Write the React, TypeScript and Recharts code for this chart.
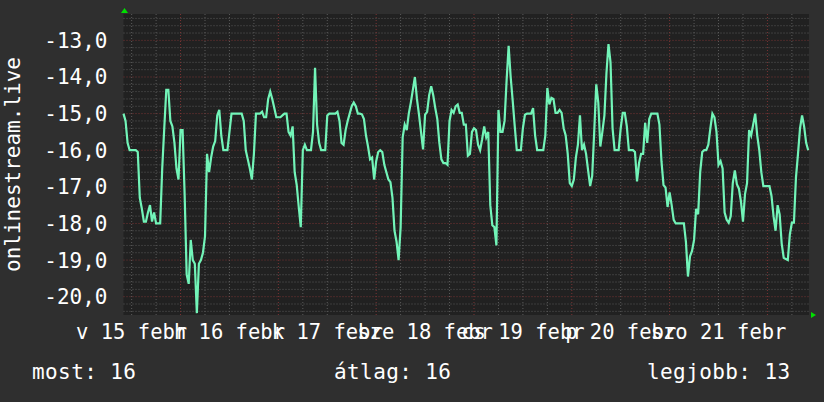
import React from 'react'
import { LineChart, Line, XAxis, YAxis, CartesianGrid, ReferenceLine } from 'recharts'

// hours counted from 15 Feb 00:00, one sample every half hour
const START_HOUR = 10
const STEP_HOURS = 0.5
const END_HOUR = 178.2

const rankValues = [
  -15.0, -15.2, -15.8, -16.0, -16.0, -16.0, -16.0, -16.05, -17.3, -17.6,
  -17.95, -17.95, -17.7, -17.5, -17.95, -17.7, -18.0, -18.0, -18.0, -16.5,
  -15.4, -14.35, -14.35, -15.2, -15.35, -15.8, -16.5, -16.8, -15.45, -15.45,
  -17.2, -19.4, -19.65, -18.45, -19.0, -19.1, -20.45, -19.1, -19.0, -18.8,
  -18.35, -16.1, -16.6, -16.2, -15.9, -15.75, -15.05, -14.9, -15.6, -16.0,
  -16.0, -16.0, -15.5, -15.0, -15.0, -15.0, -15.0, -15.0, -15.0, -15.2,
  -16.0, -16.25, -16.5, -16.8, -16.1, -15.0, -15.0, -15.0, -14.95, -15.1,
  -15.1, -14.6, -14.4, -14.6, -14.85, -15.1, -15.1, -15.1, -15.05, -15.0,
  -15.0, -15.5, -15.6, -15.35, -16.6, -16.95, -17.55, -18.1, -16.0, -15.85,
  -16.0, -16.0, -16.0, -15.5, -13.75, -15.3, -15.8, -16.0, -16.0, -16.0,
  -15.05, -15.0, -15.0, -15.0, -15.0, -14.95, -15.2, -15.8, -15.85, -15.45,
  -15.2, -15.0, -14.8, -14.7, -14.8, -15.0, -15.0, -15.02, -15.15, -15.6,
  -15.9, -16.25, -16.2, -16.8, -16.3, -16.05, -16.0, -16.05, -16.4, -16.6,
  -16.8, -16.87, -17.3, -18.2, -18.5, -19.0, -18.1, -15.65, -15.3, -15.45,
  -15.0, -14.7, -14.35, -14.0, -14.6, -15.02, -15.5, -15.98, -15.03, -14.95,
  -14.5, -14.25, -14.5, -14.85, -15.15, -15.8, -16.25, -16.35, -16.35, -16.4,
  -15.2, -14.9, -14.98, -14.8, -14.75, -14.98, -14.98, -15.3, -15.3, -16.15,
  -16.1, -15.5, -15.4, -15.45, -15.85, -16.0, -15.7, -15.35, -15.65, -15.5,
  -17.5, -18.05, -18.1, -18.6, -14.9, -15.5, -15.5, -15.2, -14.1, -13.15,
  -14.0, -14.65, -15.35, -16.0, -16.0, -16.0, -15.4, -15.03, -15.0, -15.0,
  -15.0, -14.85, -15.6, -16.0, -16.0, -16.0, -16.0, -15.6, -14.3, -14.75,
  -14.57, -14.6, -14.98, -14.98, -14.9, -14.98, -15.4, -15.6, -16.1, -16.9,
  -16.98, -16.8, -16.2, -15.85, -15.05, -16.0, -15.85, -16.1, -16.55, -16.98,
  -16.7, -15.5, -14.2, -14.7, -15.9, -15.5, -15.05, -13.9, -13.1, -13.6,
  -15.4, -16.0, -16.0, -16.0, -15.4, -14.98, -14.98, -15.35, -16.0, -16.0,
  -16.0, -16.05, -16.85, -16.35, -16.1, -16.1, -15.25, -15.8, -15.15, -15.0,
  -15.0, -15.0, -15.0, -15.3, -16.3, -16.95, -17.02, -17.55, -17.15, -17.5,
  -17.9, -18.0, -18.0, -18.0, -18.0, -18.0, -18.5, -19.45, -18.9, -18.75,
  -18.45, -17.6, -17.75, -16.6, -16.05, -16.0, -16.0, -15.85, -15.4, -15.0,
  -15.1, -15.5, -16.4, -16.3, -16.5, -17.7, -17.9, -17.98, -17.8, -16.9,
  -16.55, -16.93, -17.05, -17.4, -17.95, -17.2, -16.9, -15.45, -15.6, -15.3,
  -15.0, -15.6, -16.0, -16.6, -16.98, -16.98, -16.98, -16.98, -17.25, -17.8,
  -18.2, -17.5, -17.75, -18.55, -18.94, -18.97, -19.0, -18.3, -17.98, -17.98,
  -16.75, -16.1, -15.4, -15.05, -15.35, -15.8, -16.0,
]

const yTicks = [-20, -19, -18, -17, -16, -15, -14, -13]
const labelHours = [12, 36, 60, 84, 108, 132, 156]
const dayLabels = ['v 15 febr', 'h 16 febr', 'k 17 febr', 'sze 18 febr', 'cs 19 febr', 'p 20 febr', 'szo 21 febr']

const legendItems = [
  { text: 'most: 16', left: 32 },
  { text: 'átlag: 16', left: 334 },
  { text: 'legjobb: 13', left: 647 },
]

const data = rankValues.map((v, i) => ({ t: START_HOUR + i * STEP_HOURS, v }))

const minorX: number[] = []
const majorX: number[] = []
for (let h = 12; h < END_HOUR; h += 6) {
  if (h % 24 === 0) majorX.push(h)
  else minorX.push(h)
}
const minorY: number[] = []
for (let k = -102; k <= -62; k++) {
  if (k % 5 !== 0) minorY.push(k / 5)
}

const FONT = '"DejaVu Sans Mono", monospace'
const MINOR = '#5a5a5a'
const MAJOR = '#7a3434'

export default function App() {
  return (
    <div style={{ position: 'fixed', left: 0, top: 0, width: 824, height: 402, background: '#2f2f2f', overflow: 'hidden' }}>
      <LineChart width={824} height={402} data={data} margin={{ top: 14, right: 15, bottom: 0, left: 0 }}>
        <CartesianGrid horizontal={false} vertical={false} fill="#212121" />
        {minorY.map((y) => (
          <ReferenceLine key={'my' + y} y={y} stroke={MINOR} strokeDasharray="1 2" />
        ))}
        {minorX.map((x) => (
          <ReferenceLine key={'mx' + x} x={x} stroke={MINOR} strokeDasharray="1 2" />
        ))}
        {yTicks.map((y) => (
          <ReferenceLine key={'Y' + y} y={y} stroke={MAJOR} strokeDasharray="1 2" />
        ))}
        {majorX.map((x) => (
          <ReferenceLine key={'X' + x} x={x} stroke={MAJOR} strokeDasharray="1 2" />
        ))}
        <XAxis
          dataKey="t"
          type="number"
          domain={[START_HOUR, END_HOUR]}
          ticks={labelHours}
          interval={0}
          tickFormatter={(v) => dayLabels[labelHours.indexOf(v)]}
          tick={{ fill: '#ffffff', fontSize: 20.5, fontFamily: FONT }}
          tickSize={0}
          tickMargin={9}
          axisLine={false}
          height={87}
        />
        <YAxis
          type="number"
          domain={[-20.5, -12.28]}
          allowDataOverflow
          ticks={yTicks}
          interval={0}
          tickFormatter={(v) => v.toFixed(1).replace('.', ',')}
          tick={{ fill: '#ffffff', fontSize: 21, fontFamily: FONT }}
          tickSize={0}
          tickMargin={16}
          axisLine={false}
          width={123.5}
          label={{
            value: 'onlinestream.live',
            angle: -90,
            position: 'insideLeft',
            offset: 13,
            style: { textAnchor: 'middle', fill: '#ffffff', fontSize: 21, fontFamily: FONT },
          }}
        />
        <Line
          type="linear"
          dataKey="v"
          stroke="#72f4b8"
          strokeWidth={2.2}
          dot={false}
          isAnimationActive={false}
        />
      </LineChart>
      <svg width={824} height={402} style={{ position: 'absolute', left: 0, top: 0, pointerEvents: 'none' }}>
        <polygon points="121,13 128,13 124.5,8" fill="#00e000" />
        <polygon points="811,312 811,318 816,315" fill="#00e000" />
      </svg>
      {legendItems.map((item) => (
        <div
          key={item.text}
          style={{
            position: 'absolute',
            left: item.left,
            top: 362,
            fontFamily: FONT,
            fontSize: 21,
            lineHeight: '21px',
            letterSpacing: 0.4,
            color: '#ffffff',
            whiteSpace: 'pre',
          }}
        >
          {item.text}
        </div>
      ))}
    </div>
  )
}
